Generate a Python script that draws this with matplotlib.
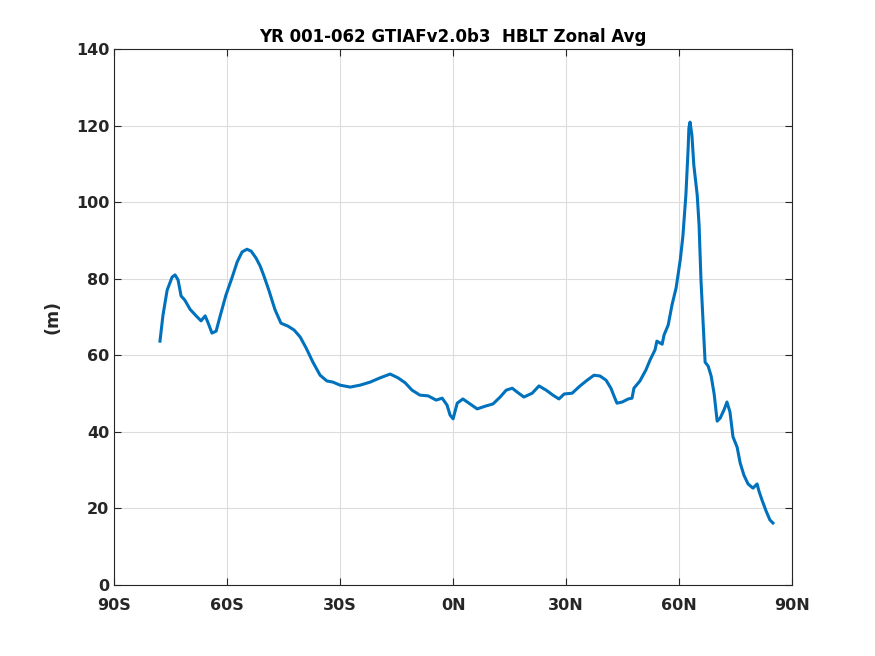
import matplotlib
matplotlib.use("Agg")
import matplotlib.pyplot as plt
import numpy as np

lat = [-77.8, -77.0, -75.9, -74.6, -73.8, -73.0, -72.2, -71.2, -69.8, -68.2, -66.9, -65.8, -65.0,
       -64.0, -62.9, -61.9, -60.3, -58.7, -57.3, -56.0, -54.7, -53.6, -52.3, -51.2, -50.2, -48.9,
       -47.3, -45.7, -43.8, -42.2, -40.6, -39.0, -37.2, -35.3, -33.5, -31.9, -30.0, -27.3, -24.7,
       -22.0, -19.4, -16.7, -14.6, -12.7, -10.9, -8.8, -6.6, -4.5, -2.9, -1.6, -0.8, 0.0, 1.1, 2.6,
       4.5, 6.4, 8.5, 10.6, 12.5, 14.1, 15.7, 17.0, 18.8, 21.0, 22.8, 24.7, 26.5, 28.1, 29.5, 31.6,
       33.7, 35.6, 37.4, 39.0, 40.6, 41.9, 42.7, 43.5, 44.9, 46.5, 47.5, 48.0, 49.6, 51.2, 52.3,
       53.6, 54.1, 55.5, 56.0, 57.1, 58.1, 59.2, 60.3, 61.0, 61.8, 62.4, 62.6, 62.9, 63.4, 63.9,
       64.8, 65.3, 65.8, 66.4, 66.9, 67.7, 68.5, 69.3, 70.1, 70.9, 71.9, 72.7, 73.5, 74.3, 75.4,
       76.2, 77.2, 78.3, 79.6, 80.7, 81.2, 82.0, 83.1, 84.1, 84.9]
hblt = [63.7, 70.5, 77.0, 80.4, 81.0, 79.7, 75.5, 74.4, 72.0, 70.3, 69.0, 70.3, 68.4,
        65.8, 66.3, 70.0, 75.7, 80.2, 84.4, 87.0, 87.7, 87.2, 85.4, 83.3, 80.7, 77.0,
        72.0, 68.4, 67.6, 66.6, 64.8, 61.9, 58.2, 54.8, 53.3, 53.0, 52.2, 51.7, 52.2,
        53.0, 54.1, 55.1, 54.1, 52.8, 50.9, 49.6, 49.4, 48.3, 48.8, 47.0, 44.4, 43.4, 47.5, 48.6,
        47.3, 46.0, 46.7, 47.3, 49.1, 50.9, 51.4, 50.4, 49.1, 50.1, 52.0, 50.9, 49.6, 48.6, 49.9, 50.1,
        52.0, 53.5, 54.8, 54.6, 53.5, 51.4, 49.4, 47.5, 47.8, 48.6, 48.8, 51.4, 53.3, 56.2, 58.8,
        61.4, 63.7, 62.9, 65.3, 67.9, 73.1, 77.6, 84.9, 91.1, 101.9, 114.1, 119.4, 120.9, 117.5, 109.7,
        101.9, 94.0, 79.7, 67.9, 58.2, 57.2, 54.6, 49.9, 42.8, 43.6, 45.7, 47.8, 45.2, 38.7, 36.0,
        31.9, 28.7, 26.4, 25.3, 26.4, 24.5, 22.2, 19.3, 17.0, 16.2]

xticks = [-90, -60, -30, 0, 30, 60, 90]
xticklabels = ["90S", "60S", "30S", "0N", "30N", "60N", "90N"]
yticks = [0, 20, 40, 60, 80, 100, 120, 140]

fig = plt.figure(figsize=(8.75, 6.56), dpi=100)
ax = fig.add_axes([0.1303, 0.1082, 0.775, 0.8171])
ax.plot(lat, hblt, color="#0072BD", lw=2.2)
ax.set_xlim(-90, 90)
ax.set_ylim(0, 140)
ax.set_xticks(xticks)
ax.set_xticklabels(xticklabels)
ax.set_yticks(yticks)
ax.grid(True, color="#dcdcdc", lw=0.8)
ax.set_axisbelow(True)
ax.tick_params(direction="in", top=True, right=True, length=5, labelsize=11.5, colors="#262626")
ax.tick_params(axis="x", pad=9)
for lab in ax.get_xticklabels() + ax.get_yticklabels():
    lab.set_fontweight("bold")
for s in ax.spines.values():
    s.set_color("#262626")
    s.set_linewidth(0.8)
ax.set_ylabel("(m)", fontsize=12.5, fontweight="bold", color="#262626", labelpad=10)
ax.set_title("YR 001-062 GTIAFv2.0b3  HBLT Zonal Avg", fontsize=12, fontweight="bold", pad=5)
fig.savefig("out.png", dpi=100)
